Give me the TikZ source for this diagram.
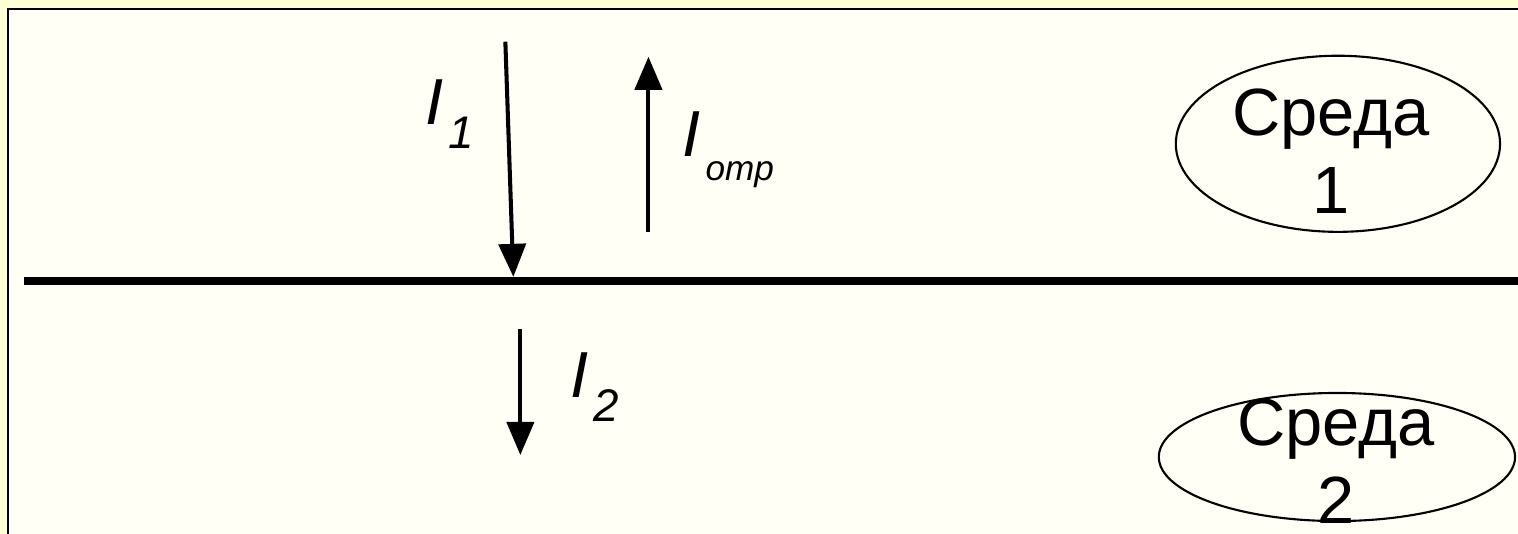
\documentclass[tikz,border=0pt]{standalone}
\usepackage{fontspec}
\setmainfont{Liberation Sans}
\usetikzlibrary{arrows.meta}
\definecolor{slidebg}{HTML}{FFFFD6}
\definecolor{panelbg}{HTML}{FFFFF5}
\newcommand{\intens}[2]{\textit{I}\kern1.5pt\raisebox{-0.24cm}{\fontsize{#2}{#2}\selectfont\itshape #1}}

\begin{document}
\begin{tikzpicture}[
    ray/.style={line width=1.15pt, -{Triangle[width=0.27cm, length=0.33cm]}},
    lbl/.style={font=\fontsize{18.5}{22}\selectfont, inner sep=0pt, anchor=base west},
    medium/.style={font=\fontsize{19}{22.2}\selectfont, align=center, inner sep=0pt}]
    \useasboundingbox (0,0) rectangle (430bp,151bp);
    \clip (0,0) rectangle (430bp,151bp);
    \fill[slidebg] (-1,-1) rectangle (16,6);
    \fill[panelbg] (0.083,-1) rectangle (16,5.24);
    \draw[line width=0.6pt] (0.083,-1) -- (0.083,5.24) -- (16,5.24);
    % boundary between the media
    \coordinate (bndL) at (0.24,2.52);
    \coordinate (bndR) at (16,2.52);
    \draw[line width=2.3pt] (bndL) -- (bndR);
    % rays
    \coordinate (inA) at (5.05,4.91);
    \coordinate (inB) at (5.13,2.56);
    \coordinate (refA) at (6.48,3.01);
    \coordinate (refB) at (6.48,4.76);
    \coordinate (outA) at (5.20,2.04);
    \coordinate (outB) at (5.20,0.78);
    \draw[ray] (inA) -- (inB);
    \draw[ray] (refA) -- (refB);
    \draw[ray] (outA) -- (outB);
    \node[lbl] (lblIn) at (4.24,4.08) {\intens{1}{13}};
    \node[lbl] (lblRef) at (6.81,3.76) {\intens{omp}{10}};
    \node[lbl] (lblOut) at (5.69,1.35) {\intens{2}{13}};
    % media
    \node[medium] (sreda1) at (13.30,3.815) {Среда\\1};
    \draw[line width=0.6pt] ([xshift=0.07cm, yshift=0.075cm]sreda1.center)
      ellipse [x radius=1.62, y radius=0.88];
    \node[medium] (sreda2) at (13.35,0.715) {Среда\\2};
    \draw[line width=0.6pt] ([xshift=0.01cm, yshift=0.045cm]sreda2.center)
      ellipse [x radius=1.78, y radius=0.64];
\end{tikzpicture}
\end{document}
